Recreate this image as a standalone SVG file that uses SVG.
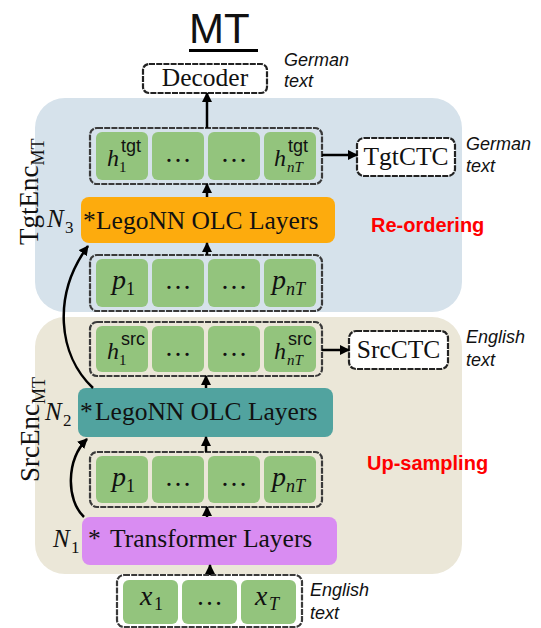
<svg xmlns="http://www.w3.org/2000/svg" width="541" height="628" viewBox="0 0 541 628">
  <style>
    .serif { font-family: "Liberation Serif", "Times New Roman", serif; fill: #111; }
    .sans { font-family: "Liberation Sans", Arial, sans-serif; fill: #111; }
    .it { font-style: italic; }
    .row { fill: none; stroke: #3a3a3a; stroke-width: 2.2; stroke-dasharray: 6 1.2; }
    .cell { fill: #93c47d; }
    .box { fill: #fff; stroke: #222; stroke-width: 2.2; stroke-dasharray: 6 1.2; }
    .conn { fill: none; stroke: #000; stroke-width: 2.5; marker-end: url(#ah); }
    .note { font-family: "Liberation Sans", Arial, sans-serif; font-style: italic; font-size: 18px; fill: #111; }
    .tag { font-family: "Liberation Sans", Arial, sans-serif; font-weight: bold; font-size: 20px; fill: #ff0000; }
    .layer { font-size: 25.5px; }
    .dots { font-size: 27px; text-anchor: middle; }
  </style>
  <defs>
    <marker id="ah" viewBox="0 0 10 10" refX="9" refY="5" markerWidth="10" markerHeight="10" markerUnits="userSpaceOnUse" orient="auto">
      <path d="M0,0 L10,5 L0,10 z" fill="#000"/>
    </marker>
  </defs>

  <rect width="541" height="628" fill="#fff"/>

  <!-- title -->
  <g id="title">
    <text x="189" y="43" class="sans" font-size="42">MT</text>
    <rect x="189" y="49" width="69" height="3" fill="#000"/>
  </g>

  <!-- encoder panels -->
  <g id="tgt-enc-panel">
    <rect x="35" y="98" width="427" height="214" rx="30" fill="#d6e2eb"/>
    <text class="serif" font-size="27" transform="translate(38,245) rotate(-90)">TgtEnc<tspan dy="6" font-size="18">MT</tspan></text>
    <text x="371" y="232" class="tag">Re-ordering</text>
  </g>
  <g id="src-enc-panel">
    <rect x="35" y="317" width="427" height="257" rx="30" fill="#ebe7d8"/>
    <text class="serif" font-size="27" transform="translate(39,482) rotate(-90)">SrcEnc<tspan dy="6" font-size="18">MT</tspan></text>
    <text x="367" y="470" class="tag">Up-sampling</text>
  </g>

  <!-- decoder -->
  <g id="decoder">
    <rect x="143" y="64" width="124" height="29" rx="6" class="box"/>
    <text x="205" y="86" class="serif" font-size="25.5" text-anchor="middle">Decoder</text>
    <text x="284" y="66" class="note">German</text>
    <text x="284" y="87" class="note">text</text>
  </g>

  <!-- target hidden states -->
  <g id="h-tgt">
    <rect x="90" y="128" width="232" height="56" rx="7" class="row"/>
    <rect x="96" y="132" width="52" height="48" rx="6" class="cell"/>
    <rect x="152" y="132" width="52" height="48" rx="6" class="cell"/>
    <rect x="208" y="132" width="52" height="48" rx="6" class="cell"/>
    <rect x="264" y="132" width="52" height="48" rx="6" class="cell"/>
    <text class="serif"><tspan class="it" x="107" y="166" font-size="24">h</tspan><tspan x="119" y="172" font-size="15">1</tspan><tspan class="sans" x="121" y="152" font-size="18">tgt</tspan></text>
    <text x="178" y="162" class="serif dots">…</text>
    <text x="234" y="162" class="serif dots">…</text>
    <text class="serif"><tspan class="it" x="274" y="166" font-size="24">h</tspan><tspan class="it" x="287" y="172" font-size="15">nT</tspan><tspan class="sans" x="288" y="152" font-size="18">tgt</tspan></text>
  </g>

  <g id="tgt-ctc">
    <rect x="357" y="138" width="98" height="38" rx="7" class="box"/>
    <text x="406" y="165" class="serif" font-size="25.5" text-anchor="middle">TgtCTC</text>
    <text x="466" y="150" class="note">German</text>
    <text x="466" y="172" class="note">text</text>
  </g>

  <g id="olc-tgt">
    <rect x="81" y="197" width="254" height="46" rx="8" fill="#fdab0d"/>
    <text class="serif layer"><tspan x="83" y="229">*</tspan><tspan x="96" y="229">LegoNN OLC Layers</tspan></text>
    <text class="serif" font-size="25"><tspan class="it" x="47" y="227">N</tspan><tspan x="65" y="233" font-size="17">3</tspan></text>
  </g>

  <g id="p-tgt">
    <rect x="90" y="255" width="232" height="56" rx="7" class="row"/>
    <rect x="96" y="259" width="52" height="48" rx="6" class="cell"/>
    <rect x="152" y="259" width="52" height="48" rx="6" class="cell"/>
    <rect x="208" y="259" width="52" height="48" rx="6" class="cell"/>
    <rect x="264" y="259" width="52" height="48" rx="6" class="cell"/>
    <text class="serif"><tspan class="it" x="112" y="289" font-size="28">p</tspan><tspan x="126" y="295" font-size="18">1</tspan></text>
    <text x="178" y="289" class="serif dots">…</text>
    <text x="234" y="289" class="serif dots">…</text>
    <text class="serif"><tspan class="it" x="272" y="289" font-size="28">p</tspan><tspan class="it" x="286" y="295" font-size="18">nT</tspan></text>
  </g>

  <!-- source hidden states -->
  <g id="h-src">
    <rect x="90" y="322" width="232" height="54" rx="7" class="row"/>
    <rect x="96" y="326" width="52" height="46" rx="6" class="cell"/>
    <rect x="152" y="326" width="52" height="46" rx="6" class="cell"/>
    <rect x="208" y="326" width="52" height="46" rx="6" class="cell"/>
    <rect x="264" y="326" width="52" height="46" rx="6" class="cell"/>
    <text class="serif"><tspan class="it" x="107" y="359" font-size="24">h</tspan><tspan x="119" y="365" font-size="15">1</tspan><tspan class="sans" x="121" y="345" font-size="18">src</tspan></text>
    <text x="178" y="356" class="serif dots">…</text>
    <text x="234" y="356" class="serif dots">…</text>
    <text class="serif"><tspan class="it" x="274" y="359" font-size="24">h</tspan><tspan class="it" x="287" y="365" font-size="15">nT</tspan><tspan class="sans" x="288" y="345" font-size="18">src</tspan></text>
  </g>

  <g id="src-ctc">
    <rect x="349" y="331" width="99" height="38" rx="7" class="box"/>
    <text x="398.5" y="358" class="serif" font-size="25.5" text-anchor="middle">SrcCTC</text>
    <text x="466" y="343" class="note">English</text>
    <text x="466" y="366" class="note">text</text>
  </g>

  <g id="olc-src">
    <rect x="78" y="388" width="255" height="49" rx="8" fill="#51a39f"/>
    <text class="serif layer"><tspan x="80" y="420">*</tspan><tspan x="95" y="420">LegoNN OLC Layers</tspan></text>
    <text class="serif" font-size="25"><tspan class="it" x="45" y="420">N</tspan><tspan x="63" y="426" font-size="17">2</tspan></text>
  </g>

  <g id="p-src">
    <rect x="90" y="452" width="232" height="55" rx="7" class="row"/>
    <rect x="96" y="456" width="52" height="47" rx="6" class="cell"/>
    <rect x="152" y="456" width="52" height="47" rx="6" class="cell"/>
    <rect x="208" y="456" width="52" height="47" rx="6" class="cell"/>
    <rect x="264" y="456" width="52" height="47" rx="6" class="cell"/>
    <text class="serif"><tspan class="it" x="112" y="486" font-size="28">p</tspan><tspan x="126" y="492" font-size="18">1</tspan></text>
    <text x="178" y="486" class="serif dots">…</text>
    <text x="234" y="486" class="serif dots">…</text>
    <text class="serif"><tspan class="it" x="272" y="486" font-size="28">p</tspan><tspan class="it" x="286" y="492" font-size="18">nT</tspan></text>
  </g>

  <g id="transformer">
    <rect x="82" y="517" width="255" height="48" rx="8" fill="#d98cf2"/>
    <text class="serif layer"><tspan x="88" y="547">*</tspan><tspan x="110" y="547">Transformer Layers</tspan></text>
    <text class="serif" font-size="25"><tspan class="it" x="53" y="547">N</tspan><tspan x="71" y="553" font-size="17">1</tspan></text>
  </g>

  <!-- input tokens -->
  <g id="x-in">
    <rect x="117" y="575" width="185" height="52" rx="7" class="row"/>
    <rect x="123" y="580" width="55" height="44" rx="6" class="cell"/>
    <rect x="182" y="580" width="55" height="44" rx="6" class="cell"/>
    <rect x="241" y="580" width="55" height="44" rx="6" class="cell"/>
    <text class="serif"><tspan class="it" x="140" y="605" font-size="28">x</tspan><tspan x="154" y="610" font-size="18">1</tspan></text>
    <text x="209.5" y="605" class="serif dots">…</text>
    <text class="serif"><tspan class="it" x="255" y="605" font-size="28">x</tspan><tspan class="it" x="269" y="610" font-size="18">T</tspan></text>
    <text x="310" y="596" class="note">English</text>
    <text x="310" y="619" class="note">text</text>
  </g>

  <!-- connectors -->
  <g id="connectors">
    <path class="conn" d="M207 128 V93"/>
    <path class="conn" d="M207 197 V184"/>
    <path class="conn" d="M207 255 V243"/>
    <path class="conn" d="M322 155 H357"/>
    <path class="conn" d="M322 350 H349"/>
    <path class="conn" d="M206 388 V376"/>
    <path class="conn" d="M206 452 V437"/>
    <path class="conn" d="M207 517 V507"/>
    <path class="conn" d="M210 575 V565"/>
    <path class="conn" d="M93 388 C58 355, 52 295, 88 246"/>
    <path class="conn" d="M84 517 C66 500, 66 460, 87 439"/>
  </g>
</svg>
